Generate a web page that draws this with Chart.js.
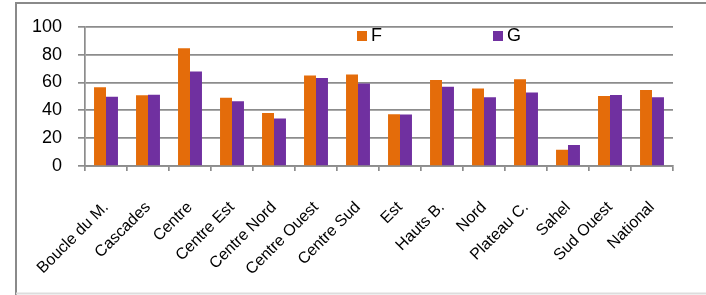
<!DOCTYPE html>
<html>
<head>
<meta charset="utf-8">
<script src="https://cdn.jsdelivr.net/npm/chart.js@4/dist/chart.umd.min.js"></script>
<style>
    html, body { margin: 0; padding: 0; background: #fff; }
    #wrap { width: 706px; height: 295px; }
</style>
</head>
<body>
<div id="wrap"><canvas id="myChart" width="706" height="295"></canvas></div>
<script>
const regions = ['Boucle du M.', 'Cascades', 'Centre', 'Centre Est', 'Centre Nord', 'Centre Ouest', 'Centre Sud',
    'Est', 'Hauts B.', 'Nord', 'Plateau C.', 'Sahel', 'Sud Ouest', 'National'];
const valuesF = [56.5, 50.8, 84.6, 49, 38, 65.1, 65.8, 37.2, 61.7, 55.6, 62.4, 11.6, 50.3, 54.6];
const valuesG = [49.7, 51.2, 67.8, 46.5, 34.2, 63.3, 59.2, 37, 56.9, 49.4, 52.8, 15, 51, 49.4];
const yTicks = [0, 20, 40, 60, 80, 100];

const orange = '#e46c0a';
const purple = '#7030a0';
const gridGray = '#8c8c8c';

// frame around the figure
const framePlugin = {
    id: 'frame',
    beforeDraw: (chart) => {
        const { ctx } = chart;
        ctx.save();
        ctx.fillStyle = '#fff';
        ctx.fillRect(0, 0, chart.width, chart.height);
        ctx.lineWidth = 2;
        ctx.strokeStyle = '#8a8a8a';
        ctx.beginPath();
        ctx.moveTo(16, 295);
        ctx.lineTo(16, 3);
        ctx.lineTo(706, 3);
        ctx.stroke();
        ctx.strokeStyle = '#dddddd';
        ctx.beginPath();
        ctx.moveTo(16, 293.5);
        ctx.lineTo(706, 293.5);
        ctx.stroke();
        ctx.restore();
    }
};

// legend drawn inside the plot, like the original
const legendPlugin = {
    id: 'insideLegend',
    afterDraw: (chart) => {
        const { ctx } = chart;
        const spots = [357, 493];
        ctx.save();
        ctx.font = '18px "Liberation Sans", Arial, sans-serif';
        ctx.textBaseline = 'middle';
        chart.data.datasets.forEach((ds, i) => {
            ctx.fillStyle = ds.backgroundColor;
            ctx.fillRect(spots[i], 31, 10, 10);
            ctx.fillStyle = '#000';
            ctx.fillText(ds.label, spots[i] + 14, 36);
        });
        ctx.restore();
    }
};

new Chart(document.getElementById('myChart'), {
    type: 'bar',
    data: {
        labels: regions,
        datasets: [
            { label: 'F', data: valuesF, backgroundColor: orange },
            { label: 'G', data: valuesG, backgroundColor: purple }
        ]
    },
    options: {
        responsive: false,
        animation: false,
        layout: { padding: { top: 19, right: 33, left: 0, bottom: 0 } },
        datasets: {
            bar: { categoryPercentage: 0.57, barPercentage: 1 }
        },
        plugins: {
            legend: { display: false },
            tooltip: { enabled: false }
        },
        scales: {
            y: {
                min: 0,
                max: 100,
                afterBuildTicks: (scale) => { scale.ticks = yTicks.map(v => ({ value: v })); },
                afterFit: (scale) => { scale.width = 85; },
                grid: { color: gridGray, lineWidth: 1.7, tickLength: 7, drawTicks: true },
                border: { color: gridGray, width: 1.7 },
                ticks: {
                    color: '#000',
                    padding: 16,
                    font: { family: '"Liberation Sans", Arial, sans-serif', size: 18 }
                }
            },
            x: {
                afterFit: (scale) => { scale.height = 129; },
                grid: { drawOnChartArea: false, drawTicks: true, tickLength: 5, color: gridGray, lineWidth: 1.7, offset: true },
                border: { color: gridGray, width: 1.7 },
                ticks: {
                    color: '#000',
                    minRotation: 45,
                    maxRotation: 45,
                    autoSkip: false,
                    padding: 27,
                    font: { family: '"Liberation Sans", Arial, sans-serif', size: 16 }
                }
            }
        }
    },
    plugins: [framePlugin, legendPlugin]
});
</script>
</body>
</html>
